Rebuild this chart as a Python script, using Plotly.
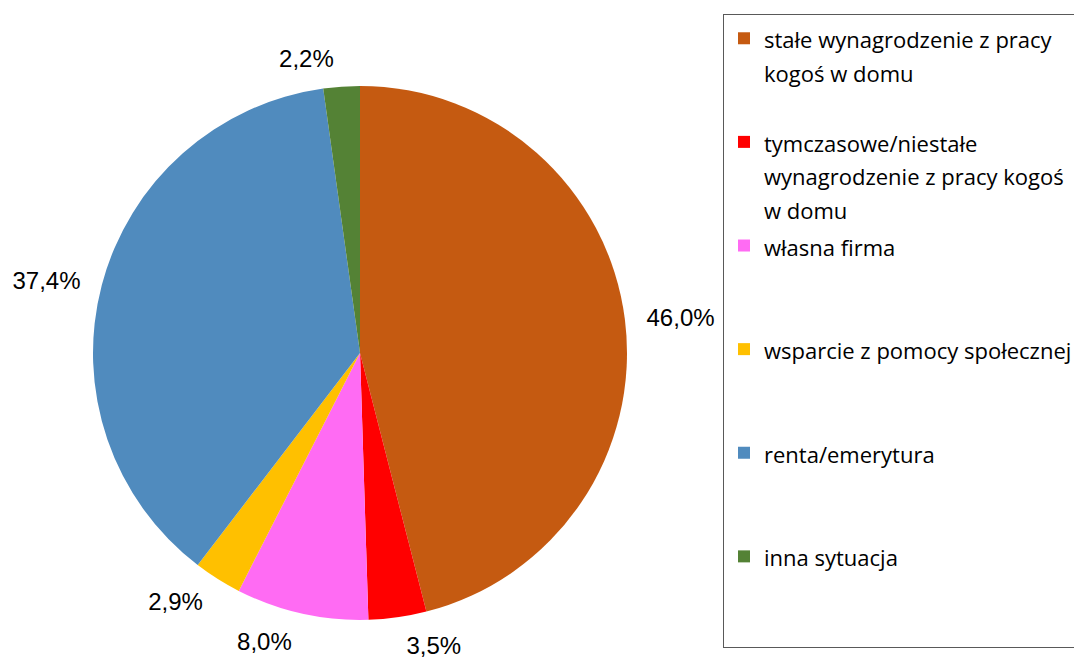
import plotly.graph_objects as go

# ---- data ----
categories = [
    "stałe wynagrodzenie z pracy<br>kogoś w domu",
    "tymczasowe/niestałe<br>wynagrodzenie z pracy kogoś<br>w domu",
    "własna firma",
    "wsparcie z pomocy społecznej",
    "renta/emerytura",
    "inna sytuacja",
]
values = [46.0, 3.5, 8.0, 2.9, 37.4, 2.2]
colors = ["#C55A11", "#FF0000", "#FF6BF3", "#FFC000", "#508BBE", "#548235"]

# pad every legend entry to the same number of lines
LINES = 3
legend_labels = []
for c in categories:
    n = c.count("<br>") + 1
    txt = "<span style='font-size:22px'>" + c + "</span>" + "<br>\u00a0" * (LINES - n)
    legend_labels.append(txt)

# the page body has an 8px margin, so the figure is drawn 8px in from the window corner
OFF = 8
W, H = 1082 - OFF, 657 - OFF
cx, cy = 360 - OFF, 353 - OFF
r_pie = 267
r_lab = 282


def dom(r):
    return dict(
        x=[(cx - r) / W, (cx + r) / W],
        y=[(H - cy - r) / H, (H - cy + r) / H],
    )


fig = go.Figure()

fig.add_trace(go.Pie(
    labels=legend_labels,
    values=values,
    marker=dict(colors=colors, line=dict(width=0)),
    sort=False,
    direction="clockwise",
    rotation=0,
    textinfo="none",
    domain=dom(r_pie),
    hoverinfo="label+percent",
))

# transparent pie used only to place the percentage labels a bit outside the slices
fig.add_trace(go.Pie(
    labels=legend_labels,
    values=values,
    marker=dict(colors=["rgba(0,0,0,0)"] * len(values), line=dict(width=0)),
    sort=False,
    direction="clockwise",
    rotation=0,
    textposition="outside",
    texttemplate="%{percent:.1%}",
    textfont=dict(family="Liberation Sans, Arial, sans-serif", size=24, color="#000000"),
    domain=dom(r_lab),
    showlegend=False,
    hoverinfo="skip",
))

fig.update_layout(
    width=W,
    height=H,
    margin=dict(l=0, r=0, t=0, b=0, autoexpand=False),
    paper_bgcolor="white",
    plot_bgcolor="white",
    separators=",.",
    showlegend=True,
    legend=dict(
        x=(723 - OFF) / W,
        xanchor="left",
        y=1 - (14 - OFF) / H,
        yanchor="top",
        valign="top",
        font=dict(family="Open Sans, sans-serif", size=25.8, color="#000000"),
        bordercolor="#595959",
        borderwidth=1,
        bgcolor="white",
        tracegroupgap=0,
    ),
)

fig.write_html("out.html")
